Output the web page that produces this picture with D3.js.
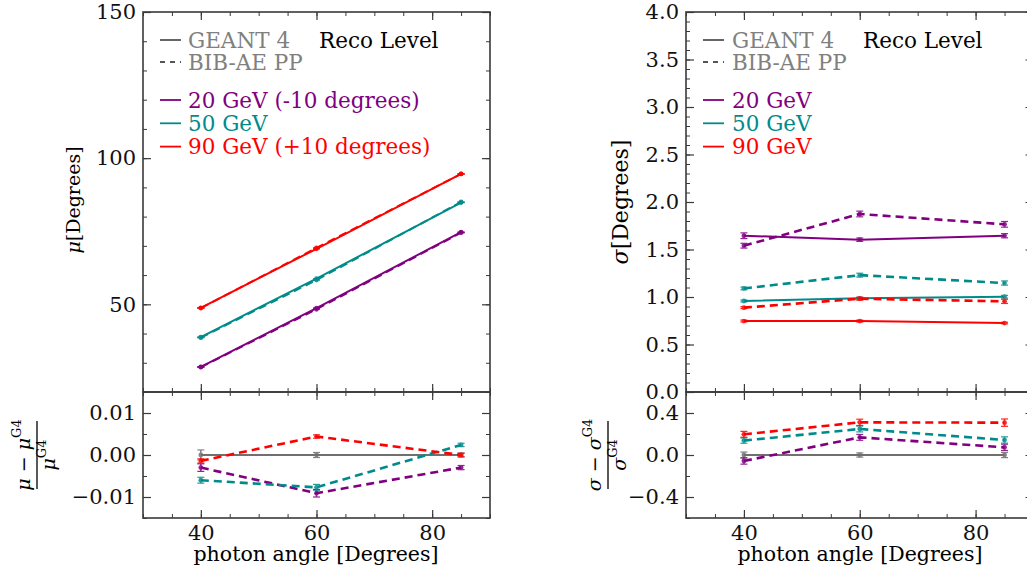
<!DOCTYPE html>
<html>
<head>
<meta charset="utf-8">
<script src="https://cdn.jsdelivr.net/npm/d3@7"></script>
<style>
  body { margin: 0; background: #fff; }
  svg { display: block; }
  text { font-family: "DejaVu Serif", "Liberation Serif", serif; }
</style>
</head>
<body>
<div id="chart"></div>
<script>
// ############## data ##############
var angles = [40, 60, 85];
var energyLabelsMu = ["20 GeV (-10 degrees)", "50 GeV", "90 GeV (+10 degrees)"];
var energyLabelsSigma = ["20 GeV", "50 GeV", "90 GeV"];
var energyColors = ["#800080", "#008b8b", "#ff0000"];

// mean reconstructed angle
var muG4_20 = [28.6, 48.7, 74.7];
var muG4_50 = [38.8, 58.8, 84.8];
var muG4_90 = [48.8, 69.0, 94.6];
var muBib_20 = [28.5, 48.3, 74.5];
var muBib_50 = [38.6, 58.3, 85.0];
var muBib_90 = [48.7, 69.3, 94.6];

// relative difference of the mean
var muRatio_20 = [-0.0030, -0.0091, -0.0030];
var muRatio_50 = [-0.0060, -0.0077, 0.0024];
var muRatio_90 = [-0.0014, 0.0044, 0.0000];
var muRatioErr_20 = [0.0009, 0.0009, 0.0005];
var muRatioErr_50 = [0.0007, 0.0007, 0.0004];
var muRatioErr_90 = [0.0005, 0.0004, 0.0004];
var muRatioErrG4 = [0.0012, 0.0006, 0.0005];

// resolution
var sigG4_20 = [1.645, 1.603, 1.645];
var sigG4_50 = [0.958, 0.986, 1.003];
var sigG4_90 = [0.747, 0.747, 0.726];
var sigBib_20 = [1.540, 1.874, 1.765];
var sigBib_50 = [1.090, 1.230, 1.147];
var sigBib_90 = [0.888, 0.982, 0.954];
var sigErrG4_20 = [0.030, 0.018, 0.022];
var sigErrG4_50 = [0.010, 0.010, 0.014];
var sigErrG4_90 = [0.010, 0.010, 0.008];
var sigErrBib_20 = [0.025, 0.030, 0.030];
var sigErrBib_50 = [0.014, 0.020, 0.022];
var sigErrBib_90 = [0.010, 0.016, 0.022];

// relative difference of the resolution
var sigRatio_20 = [-0.057, 0.168, 0.073];
var sigRatio_50 = [0.137, 0.248, 0.143];
var sigRatio_90 = [0.197, 0.311, 0.308];
var sigRatioErr_20 = [0.030, 0.028, 0.030];
var sigRatioErr_50 = [0.025, 0.028, 0.030];
var sigRatioErr_90 = [0.028, 0.030, 0.035];
var sigRatioErrG4 = [0.028, 0.020, 0.025];

// ############## layout ##############
var attrs = {
  width: 1027,
  height: 575,
  tickFontSize: 21,
  legendFontSize: 21.5,
  xLabelFontSize: 20.5,
  fontFamily: '"DejaVu Serif", "Liberation Serif", serif',
  frameColor: "#3a3a3a",
  g4Color: "#707070",
  textGrey: "#808080",
  panelTop: 12,
  panelSplit: 392,
  panelBottom: 518,
  left: { x0: 143, x1: 490 },
  right: { x0: 686, x1: 1033.5 }
};

var svg = d3.select("#chart").append("svg")
  .attr("width", attrs.width)
  .attr("height", attrs.height)
  .style("font-family", attrs.fontFamily);

function zip(ys, errs) {
  return angles.map(function(a, i) { return { x: a, y: ys[i], e: errs ? errs[i] : 0 }; });
}

// ######## axis helper: inward ticks on all four sides ########
function frame(g, x, y, opt) {
  var xr = x.range(), yr = y.range();
  var sides = [
    { ax: d3.axisBottom(x), tr: "translate(0," + yr[0] + ")", ticks: opt.xMajor, labels: opt.xLabels, minor: opt.xMinor },
    { ax: d3.axisTop(x), tr: "translate(0," + yr[1] + ")", ticks: opt.xMajor, labels: false, minor: opt.xMinor },
    { ax: d3.axisLeft(y), tr: "translate(" + xr[0] + ",0)", ticks: opt.yMajor, labels: true, minor: opt.yMinor, fmt: opt.yFmt },
    { ax: d3.axisRight(y), tr: "translate(" + xr[1] + ",0)", ticks: opt.yMajor, labels: false, minor: opt.yMinor }
  ];
  sides.forEach(function(s) {
    // minor ticks
    var m = g.append("g").attr("transform", s.tr)
      .call(s.ax.tickValues(s.minor).tickSize(-4).tickFormat(""));
    m.select(".domain").remove();
    m.selectAll("line").attr("stroke", attrs.frameColor).attr("stroke-width", 1);
    // major ticks
    var a = g.append("g").attr("transform", s.tr)
      .call(s.ax.tickValues(s.ticks).tickSize(-8).tickPadding(7)
        .tickFormat(s.labels ? (s.fmt || d3.format("d")) : ""));
    a.attr("font-family", null);
    a.select(".domain").remove();
    a.selectAll("line").attr("stroke", attrs.frameColor).attr("stroke-width", 1.2);
    a.selectAll("text")
      .attr("font-size", attrs.tickFontSize)
      .attr("fill", "#111");
  });
  g.append("rect")
    .attr("x", xr[0]).attr("y", yr[1])
    .attr("width", xr[1] - xr[0]).attr("height", yr[0] - yr[1])
    .attr("fill", "none").attr("stroke", attrs.frameColor).attr("stroke-width", 1.6);
}

// ######## series helper: line + error bars + markers ########
function series(g, x, y, pts, color, dashed, width) {
  var line = d3.line().x(function(d) { return x(d.x); }).y(function(d) { return y(d.y); });
  g.append("path").datum(pts)
    .attr("d", line)
    .attr("fill", "none")
    .attr("stroke", color)
    .attr("stroke-width", width)
    .attr("stroke-dasharray", dashed ? "8,5" : null);
  var eb = g.append("g").selectAll("g").data(pts).enter().append("g").attr("opacity", 0.85);
  eb.append("line")
    .attr("x1", function(d) { return x(d.x); }).attr("x2", function(d) { return x(d.x); })
    .attr("y1", function(d) { return y(d.y - d.e); }).attr("y2", function(d) { return y(d.y + d.e); })
    .attr("stroke", color).attr("stroke-width", 1.6);
  [-1, 1].forEach(function(sgn) {
    eb.append("line")
      .attr("x1", function(d) { return x(d.x) - 3.5; }).attr("x2", function(d) { return x(d.x) + 3.5; })
      .attr("y1", function(d) { return y(d.y + sgn * d.e); }).attr("y2", function(d) { return y(d.y + sgn * d.e); })
      .attr("stroke", color).attr("stroke-width", 1.2);
  });
  eb.append("circle")
    .attr("cx", function(d) { return x(d.x); }).attr("cy", function(d) { return y(d.y); })
    .attr("r", 2.4).attr("fill", color);
}

// ######## legend helper ########
function legend(g, lx, tx, recoX, labels) {
  var items = [
    { t: "GEANT 4", c: attrs.textGrey, lc: "#555", dash: null, y: 40 },
    { t: "BIB-AE PP", c: attrs.textGrey, lc: "#555", dash: "5,5", y: 62 }
  ];
  labels.forEach(function(l, i) {
    items.push({ t: l, c: energyColors[i], lc: energyColors[i], dash: null, y: 100 + i * 23.3 });
  });
  var it = g.selectAll(".legend-item").data(items).enter().append("g").attr("class", "legend-item");
  it.append("line")
    .attr("x1", lx).attr("x2", lx + 21)
    .attr("y1", function(d) { return d.y; }).attr("y2", function(d) { return d.y; })
    .attr("stroke", function(d) { return d.lc; })
    .attr("stroke-width", 1.8)
    .attr("stroke-dasharray", function(d) { return d.dash; });
  it.append("text")
    .attr("x", tx).attr("y", function(d) { return d.y + 7.5; })
    .attr("font-size", attrs.legendFontSize)
    .attr("fill", function(d) { return d.c; })
    .text(function(d) { return d.t; });
  g.append("text")
    .attr("x", recoX).attr("y", 47.5)
    .attr("font-size", attrs.legendFontSize)
    .attr("fill", "#000")
    .text("Reco Level");
}

// ######## rotated fraction label for ratio panels ########
function fracLabel(g, cx, cy, sym) {
  var f = g.append("g").attr("transform", "translate(" + cx + "," + cy + ") rotate(-90)");
  var num = f.append("text").attr("x", 0).attr("y", -7).attr("text-anchor", "middle")
    .attr("font-size", 19).attr("font-style", "italic");
  num.append("tspan").text(sym);
  num.append("tspan").attr("font-style", "normal").text(" \u2212 ");
  num.append("tspan").text(sym);
  num.append("tspan").attr("font-size", 13).attr("font-style", "normal").attr("dy", -9).text("G4");
  f.append("line").attr("x1", -34).attr("x2", 34).attr("y1", 0).attr("y2", 0)
    .attr("stroke", "#000").attr("stroke-width", 1.3);
  var den = f.append("text").attr("x", 0).attr("y", 18).attr("text-anchor", "middle")
    .attr("font-size", 19).attr("font-style", "italic");
  den.append("tspan").text(sym);
  den.append("tspan").attr("font-size", 13).attr("font-style", "normal").attr("dy", -9).text("G4");
}

function yLabel(g, cx, cy, sym, size) {
  var t = g.append("text")
    .attr("transform", "translate(" + cx + "," + cy + ") rotate(-90)")
    .attr("text-anchor", "middle")
    .attr("font-size", size);
  t.append("tspan").attr("font-style", "italic").text(sym);
  t.append("tspan").text("[Degrees]");
}

function xLabel(g, cx) {
  g.append("text")
    .attr("x", cx).attr("y", 561)
    .attr("text-anchor", "middle")
    .attr("font-size", attrs.xLabelFontSize)
    .text("photon angle [Degrees]");
}

var xMajor = [40, 60, 80];
var xMinor = d3.range(30, 91, 5);
var minusFmt = function(f) { return function(v) { return f(v).replace("-", "\u2212"); }; };

// ####################### LEFT: mean #######################
var gl = svg.append("g");
var xL = d3.scaleLinear().domain([30, 90]).range([attrs.left.x0, attrs.left.x1]);
var yMu = d3.scaleLinear().domain([20, 150]).range([attrs.panelSplit, attrs.panelTop]);
var yMuR = d3.scaleLinear().domain([-0.015, 0.015]).range([attrs.panelBottom, attrs.panelSplit]);

var muG4 = [muG4_20, muG4_50, muG4_90];
var muBib = [muBib_20, muBib_50, muBib_90];
muG4.forEach(function(s, i) { series(gl, xL, yMu, zip(s), energyColors[i], false, 2); });
muBib.forEach(function(s, i) { series(gl, xL, yMu, zip(s), energyColors[i], true, 2); });

series(gl, xL, yMuR, zip([0, 0, 0], muRatioErrG4), attrs.g4Color, false, 2);
[[muRatio_20, muRatioErr_20], [muRatio_50, muRatioErr_50], [muRatio_90, muRatioErr_90]]
  .forEach(function(s, i) { series(gl, xL, yMuR, zip(s[0], s[1]), energyColors[i], true, 2.6); });

frame(gl, xL, yMu, { xMajor: xMajor, xMinor: xMinor, xLabels: false,
  yMajor: [50, 100, 150], yMinor: d3.range(20, 151, 10), yFmt: d3.format("d") });
frame(gl, xL, yMuR, { xMajor: xMajor, xMinor: xMinor, xLabels: true,
  yMajor: [-0.01, 0, 0.01], yMinor: [-0.015, -0.01, -0.005, 0, 0.005, 0.01, 0.015], yFmt: minusFmt(d3.format(".2f")) });

legend(gl, 160, 188, 319, energyLabelsMu);
yLabel(gl, 80, 200, "\u03bc", 19);
fracLabel(gl, 37, 455, "\u03bc");
xLabel(gl, 316);

// ####################### RIGHT: resolution #######################
var gr = svg.append("g");
var xR = d3.scaleLinear().domain([30, 90]).range([attrs.right.x0, attrs.right.x1]);
var ySig = d3.scaleLinear().domain([0, 4]).range([attrs.panelSplit, attrs.panelTop]);
var ySigR = d3.scaleLinear().domain([-0.6, 0.6]).range([attrs.panelBottom, attrs.panelSplit]);

var sigG4 = [[sigG4_20, sigErrG4_20], [sigG4_50, sigErrG4_50], [sigG4_90, sigErrG4_90]];
var sigBib = [[sigBib_20, sigErrBib_20], [sigBib_50, sigErrBib_50], [sigBib_90, sigErrBib_90]];
sigG4.forEach(function(s, i) { series(gr, xR, ySig, zip(s[0], s[1]), energyColors[i], false, 2); });
sigBib.forEach(function(s, i) { series(gr, xR, ySig, zip(s[0], s[1]), energyColors[i], true, 2.6); });

series(gr, xR, ySigR, zip([0, 0, 0], sigRatioErrG4), attrs.g4Color, false, 2);
[[sigRatio_20, sigRatioErr_20], [sigRatio_50, sigRatioErr_50], [sigRatio_90, sigRatioErr_90]]
  .forEach(function(s, i) { series(gr, xR, ySigR, zip(s[0], s[1]), energyColors[i], true, 2.6); });

frame(gr, xR, ySig, { xMajor: xMajor, xMinor: xMinor, xLabels: false,
  yMajor: d3.range(0, 4.01, 0.5), yMinor: d3.range(0, 4.01, 0.1), yFmt: d3.format(".1f") });
frame(gr, xR, ySigR, { xMajor: xMajor, xMinor: xMinor, xLabels: true,
  yMajor: [-0.4, 0, 0.4], yMinor: [-0.6, -0.4, -0.2, 0, 0.2, 0.4, 0.6], yFmt: minusFmt(d3.format(".1f")) });

legend(gr, 703, 732, 863, energyLabelsSigma);
yLabel(gr, 628, 202, "\u03c3", 22);
fracLabel(gr, 608, 455, "\u03c3");
xLabel(gr, 860);
</script>
</body>
</html>
